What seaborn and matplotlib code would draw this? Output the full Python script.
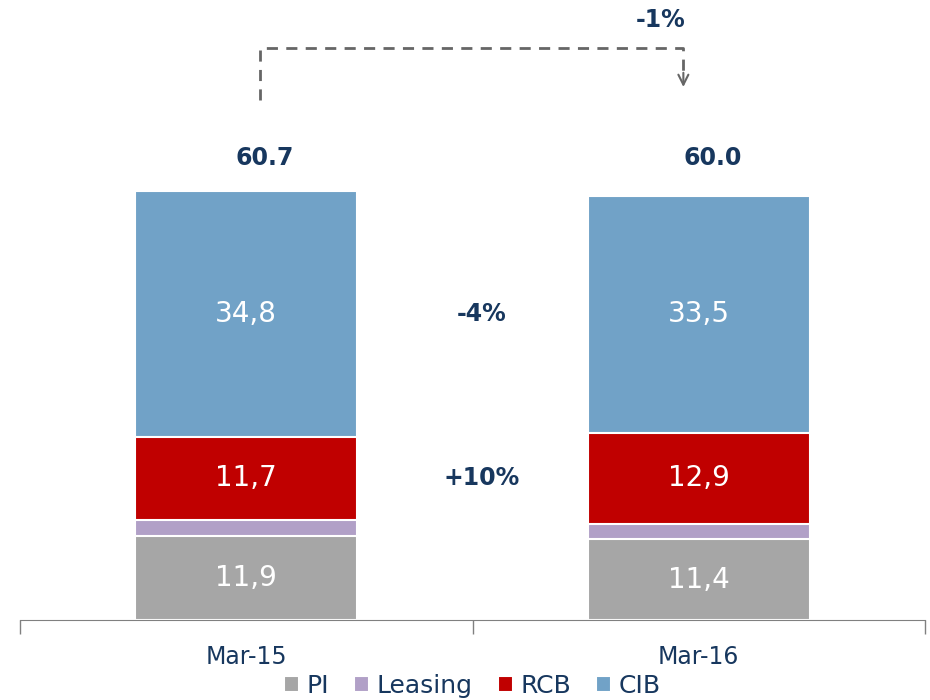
import matplotlib
matplotlib.use('Agg')
import matplotlib.pyplot as plt
import seaborn as sns
import pandas as pd
import numpy as np

# data
periods = ['Mar-15', 'Mar-16']
segments = ['PI', 'Leasing', 'RCB', 'CIB']
pi = [11.9, 11.4]
leasing = [2.3, 2.2]
rcb = [11.7, 12.9]
cib = [34.8, 33.5]
totals = [60.7, 60.0]
seg_labels = {'PI': ['11,9', '11,4'], 'RCB': ['11,7', '12,9'], 'CIB': ['34,8', '33,5']}
growth = {'CIB': '-4%', 'RCB': '+10%'}
total_change = '-1%'

colors = {'PI': '#A6A6A6', 'Leasing': '#B1A0C7', 'RCB': '#C00000', 'CIB': '#71A2C7'}
navy = '#17375E'

sns.set_style('white')
plt.rcParams['font.family'] = ['DejaVu Sans']

df = pd.DataFrame({'period': periods, 'PI': pi, 'Leasing': leasing, 'RCB': rcb, 'CIB': cib})
cum = df[segments].cumsum(axis=1)

fig = plt.figure(figsize=(9.3, 7), dpi=100)
ax = fig.add_axes([20 / 930, 80 / 700, 905 / 930, 620 / 700])

# draw cumulative bars from top to bottom to get a stacked look
for seg in reversed(segments):
    sns.barplot(x=df['period'], y=cum[seg], color=colors[seg], width=0.49, saturation=1,
                edgecolor='white', linewidth=1.5, ax=ax, label=seg)

ax.set_xlim(-0.5, 1.5)
ax.set_ylim(0, 87.7)

# values inside segments
bottoms = cum[segments].shift(1, axis=1).fillna(0)
for seg, labs in seg_labels.items():
    for i, lab in enumerate(labs):
        mid = bottoms.loc[i, seg] + df.loc[i, seg] / 2
        ax.text(i, mid, lab, ha='center', va='center', color='white', fontsize=20)

# totals on top
for i, t in enumerate(totals):
    ax.text(i + 0.04 - 0.01 * i, 65.3, f'{t:.1f}', ha='center', va='center',
            color=navy, fontsize=17, fontweight='bold')

# growth between bars
for seg, g in growth.items():
    y = (bottoms.loc[:, seg] + df[seg] / 2).mean()
    ax.text(0.52, y, g, ha='center', va='center', color=navy, fontsize=17,
            fontweight='bold')

# dashed bracket with arrow
ax.plot([0.031, 0.031, 0.966, 0.966], [73.5, 80.9, 80.9, 77.5], ls='--',
        color='#666666', lw=2, dashes=(4, 3))
ax.annotate('', xy=(0.966, 75.0), xytext=(0.966, 77.8),
            arrowprops=dict(arrowstyle='->', color='#666666', lw=1.5, mutation_scale=18))
ax.text(0.915, 84.9, total_change, ha='center', va='center', color=navy,
        fontsize=17, fontweight='bold')

# axis styling
sns.despine(ax=ax, left=True)
ax.spines['bottom'].set_color('#808080')
ax.set_yticks([])
ax.set_xlabel('')
ax.set_ylabel('')
ax.set_xticks([-0.5, 0.5, 1.5], minor=True)
ax.tick_params(axis='x', which='minor', bottom=True, length=10, color='#808080', width=1)
ax.tick_params(axis='x', which='major', length=0, pad=18, labelsize=17, labelcolor=navy)

handles, labels = ax.get_legend_handles_labels()
order = [labels.index(s) for s in segments]
leg = ax.legend([handles[k] for k in order], [labels[k] for k in order],
                loc='lower center', bbox_to_anchor=(0.5, -0.142), ncol=4, frameon=False,
                fontsize=18, handlelength=0.6, handleheight=0.6, handletextpad=0.3,
                columnspacing=1.0, borderaxespad=0)
for txt in leg.get_texts():
    txt.set_color(navy)

fig.savefig('out.png', dpi=100)
